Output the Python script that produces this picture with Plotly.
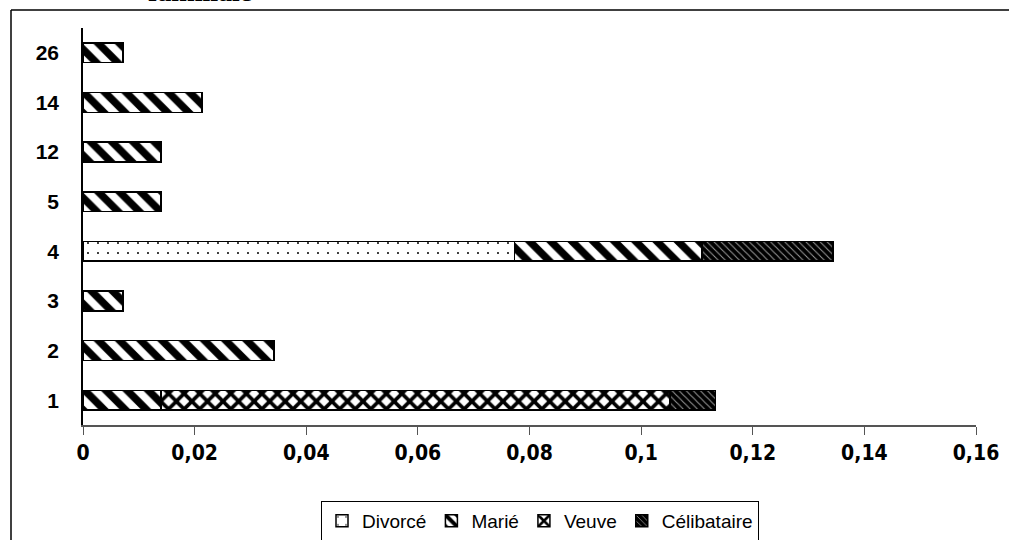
import plotly.graph_objects as go

# Categories (y axis, bottom to top) and shares per marital status
categories = ["1", "2", "3", "4", "5", "12", "14", "26"]
divorce = [0, 0, 0, 0.0773, 0, 0, 0, 0]
marie = [0.0140, 0.0342, 0.0072, 0.0336, 0.0140, 0.0140, 0.0213, 0.0072]
veuve = [0.0912, 0, 0, 0, 0, 0, 0, 0]
celibataire = [0.0081, 0, 0, 0.0235, 0, 0, 0, 0]

x_ticks = [0, 0.02, 0.04, 0.06, 0.08, 0.1, 0.12, 0.14, 0.16]
x_ticktext = ["0", "0,02", "0,04", "0,06", "0,08", "0,1", "0,12", "0,14", "0,16"]

series = [
    ("Divorcé", divorce, dict(shape=".", fgcolor="black", bgcolor="white", size=10, solidity=0.03)),
    ("Marié", marie, dict(shape="\\", fgcolor="black", bgcolor="white", size=15, solidity=0.5)),
    ("Veuve", veuve, dict(shape="x", fgcolor="black", bgcolor="white", size=11, solidity=0.55)),
    ("Célibataire", celibataire, dict(shape="\\", fgcolor="#9a9a9a", bgcolor="black", size=5, solidity=0.2)),
]

fig = go.Figure()
for name, vals, pat in series:
    pat = dict(pat, fgopacity=1)
    fig.add_trace(go.Bar(
        y=categories, x=vals, name=name, orientation="h",
        marker=dict(color="white", pattern=pat, line=dict(color="black", width=1.5)),
    ))

L, R, T, B = 83, 33, 28, 115
W, H = 1009, 540
pw, ph = W - L - R, H - T - B

fig.update_layout(
    width=W, height=H,
    margin=dict(l=L, r=R, t=T, b=B, autoexpand=False),
    barmode="stack", bargap=0.6,
    plot_bgcolor="white", paper_bgcolor="white",
    showlegend=True,
    legend=dict(
        orientation="h", traceorder="normal",
        x=(540 - L) / pw, xanchor="center",
        y=(H - B - 501) / ph, yanchor="top",
        bordercolor="black", borderwidth=1,
        font=dict(family="Arial, Liberation Sans, sans-serif", size=19, color="black"),
        itemwidth=30,
    ),
    xaxis=dict(
        range=[0, 0.16], tickvals=x_ticks, ticktext=x_ticktext,
        showgrid=False, zeroline=False, automargin=False,
        showline=True, linecolor="#555555", linewidth=1.5,
        ticks="outside", ticklen=8, tickcolor="#555555", tickwidth=1,
        ticklabelstandoff=0,
        tickfont=dict(family="DejaVu Sans Condensed, Liberation Sans Narrow, Arial, sans-serif",
                      size=21, color="black", weight="bold"),
    ),
    yaxis=dict(
        type="category", categoryorder="array", categoryarray=categories,
        range=[-0.5, 7.5],
        showgrid=False, zeroline=False, automargin=False,
        showline=True, linecolor="black", linewidth=1.5,
        ticks="", ticklabelstandoff=18,
        tickfont=dict(family="Arial, Liberation Sans, sans-serif", size=21, color="black", weight="bold"),
    ),
)

# Outer chart frame (left and top edges)
fig.add_shape(type="line", xref="paper", yref="paper",
              x0=(11 - L) / pw, x1=(11 - L) / pw, y0=(H - B - 10) / ph, y1=(H - B - 560) / ph,
              line=dict(color="black", width=1.5))
fig.add_shape(type="line", xref="paper", yref="paper",
              x0=(11 - L) / pw, x1=(1030 - L) / pw, y0=(H - B - 10) / ph, y1=(H - B - 10) / ph,
              line=dict(color="black", width=1.5))

# Chart title, mostly above the visible area
fig.add_annotation(text="<b>familiale</b>", xref="paper", yref="paper",
                   x=(200 - L) / pw, y=(H - B - 9) / ph, xanchor="center", yanchor="bottom",
                   showarrow=False,
                   font=dict(family="Liberation Serif, Times New Roman, serif", size=28, color="black"))

fig.write_html("out.html")
